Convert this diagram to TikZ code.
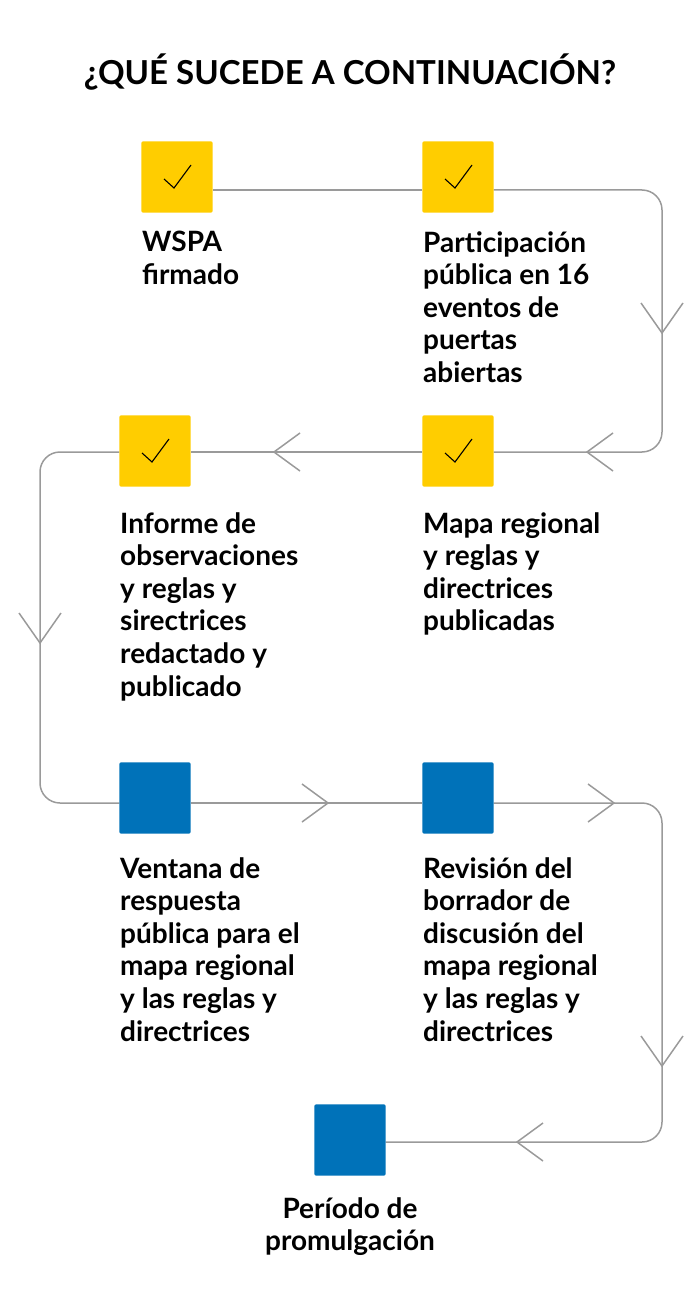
\documentclass[tikz,border=0pt]{standalone}
\usepackage{fontspec}
\setmainfont{Lato}
\usetikzlibrary{calc}
\begin{document}
\begin{tikzpicture}[x=1pt,y=-1pt,
  sq/.style={minimum size=71pt,inner sep=0pt,rounded corners=2pt},
  lbl/.style={anchor=north west,inner sep=0pt,align=left,font=\fontsize{28}{32.6}\selectfont\bfseries},
  conn/.style={draw=lin,line width=1.5pt,rounded corners=20pt},
  chev/.style={draw=lin,line width=1.5pt}]
\definecolor{yel}{HTML}{FFCD00}
\definecolor{blu}{HTML}{0072B9}
\definecolor{lin}{HTML}{9A9A9A}
\useasboundingbox (0,0) rectangle (700,1313);
\node[font=\fontsize{33}{38}\selectfont\bfseries] (title) at (350,72) {¿QUÉ SUCEDE A CONTINUACIÓN?};
\node[sq] (s1) at (177,177) {};
\node[sq] (s2) at (458,177) {};
\node[sq] (s3) at (155,451) {};
\node[sq] (s4) at (458,451) {};
\node[sq] (s5) at (155,798) {};
\node[sq] (s6) at (458,798) {};
\node[sq] (s7) at (350,1140) {};
\coordinate (c1) at (662,190);
\coordinate (c2) at (662,452);
\coordinate (c3) at (40,452);
\coordinate (c4) at (40,803);
\coordinate (c5) at (662,803);
\coordinate (c6) at (662,1142);
\draw[conn] (s1.east |- c1) -- (s2.west |- c1);
\draw[conn] (s2.east |- c1) -- (c1) -- (c2) -- (s4.east |- c2);
\draw[conn] (s4.west |- c2) -- (s3.east |- c2);
\draw[conn] (s3.west |- c3) -- (c3) -- (c4) -- (s5.west |- c4);
\draw[conn] (s5.east |- c4) -- (s6.west |- c4);
\draw[conn] (s6.east |- c4) -- (c5) -- (c6) -- (s7.east |- c6);
\draw[chev] (641,303) -- (662,333) -- (683,303);
\draw[chev] (613,433) -- (587,452) -- (613,471);
\draw[chev] (300,433) -- (274,452) -- (300,471);
\draw[chev] (19,613) -- (40,643) -- (61,613);
\draw[chev] (302,784) -- (328,803) -- (302,822);
\draw[chev] (588,784) -- (614,803) -- (588,822);
\draw[chev] (641,1036) -- (662,1066) -- (683,1036);
\draw[chev] (543,1123) -- (517,1142) -- (543,1161);
\foreach \n in {s1,s2,s3,s4} {\fill[yel,rounded corners=2pt] (\n.south west) rectangle (\n.north east);
  \draw[line width=1.1pt] ($(\n.center)+(-13,2)$) -- ($(\n.center)+(-3,11)$) -- ($(\n.center)+(14,-12)$);}
\foreach \n in {s5,s6,s7} {\fill[blu,rounded corners=2pt] (\n.south west) rectangle (\n.north east);}
\node[lbl] (t1) at (142,231) {WSPA\\firmado};
\node[lbl] (t2) at (423,231) {Participación\\pública en 16\\eventos de\\puertas\\abiertas};
\node[lbl] (t3) at (120,512) {Informe de\\observaciones\\y reglas y\\sirectrices\\redactado y\\publicado};
\node[lbl] (t4) at (423,512) {Mapa regional\\y reglas y\\directrices\\publicadas};
\node[lbl] (t5) at (120,857) {Ventana de\\respuesta\\pública para el\\mapa regional\\y las reglas y\\directrices};
\node[lbl] (t6) at (423,857) {Revisión del\\borrador de\\discusión del\\mapa regional\\y las reglas y\\directrices};
\node[lbl,anchor=north,align=center] (t7) at (350,1197) {Período de\\promulgación};
\end{tikzpicture}
\end{document}
